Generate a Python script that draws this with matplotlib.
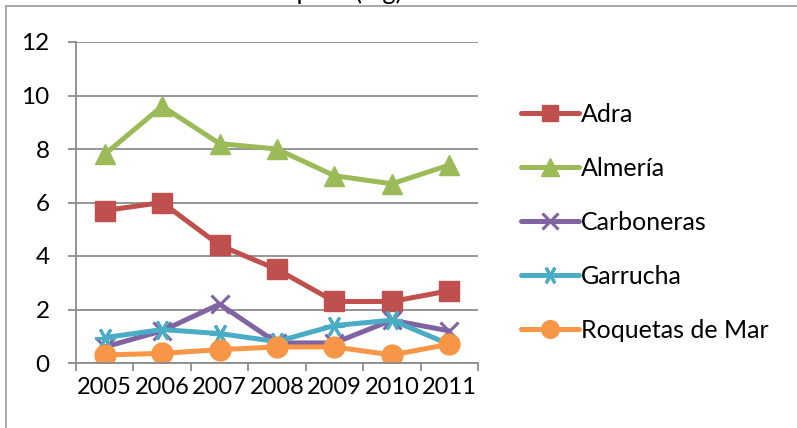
import matplotlib
matplotlib.use('Agg')
import matplotlib.pyplot as plt
from matplotlib.patches import Rectangle
import numpy as np

plt.rcParams['font.family'] = ['Lato', 'DejaVu Sans']

years = ['2005', '2006', '2007', '2008', '2009', '2010', '2011']
adra = [5.7, 6.0, 4.4, 3.5, 2.3, 2.3, 2.7]
almeria = [7.8, 9.6, 8.2, 8.0, 7.0, 6.7, 7.4]
carboneras = [0.6, 1.2, 2.2, 0.75, 0.75, 1.6, 1.2]
garrucha = [0.95, 1.25, 1.1, 0.8, 1.4, 1.6, 0.7]
roquetas = [0.3, 0.36, 0.5, 0.6, 0.6, 0.3, 0.7]
names = ['Adra', 'Almería', 'Carboneras', 'Garrucha', 'Roquetas de Mar']
title = 'Concentración en peso (mg)'

series = [adra, almeria, carboneras, garrucha, roquetas]
colors = ['#C0504D', '#9BBB59', '#8064A2', '#4BACC6', '#F79646']
markers = ['s', '^', 'x', (6, 2, 90), 'o']
msizes = [14, 15, 13, 15, 15]

fig = plt.figure(figsize=(7.97, 4.28), dpi=100)
ax = fig.add_axes([76/797, 1-363/428, (478-76)/797, (363-42)/428])

x = np.arange(len(years))
for vals, name, c, m, ms in zip(series, names, colors, markers, msizes):
    ax.plot(x, vals, color=c, lw=3.6, marker=m, markersize=ms,
            markeredgewidth=2.2 if m in ('x', (6, 2, 90)) else 1,
            markeredgecolor=c, label=name, solid_capstyle='round')

ax.set_xlim(-0.5, len(years) - 0.5)
ax.set_ylim(0, 12)
ax.set_yticks(range(0, 13, 2))
ax.set_xticks(x)
ax.set_xticklabels(years)
ax.set_xticks(np.arange(-0.5, len(years), 1), minor=True)
ax.tick_params(axis='x', which='major', length=0, pad=10, labelsize=17)
ax.tick_params(axis='x', which='minor', length=6, width=1.3, color='#8c8c8c', direction='out')
ax.tick_params(axis='y', length=6, width=1.3, color='#8c8c8c', pad=13, labelsize=17.5)
ax.grid(axis='y', color='#8c8c8c', lw=1.3)
ax.set_axisbelow(True)
for s in ['top', 'right']:
    ax.spines[s].set_visible(False)
for s in ['left', 'bottom']:
    ax.spines[s].set_color('#8c8c8c')
    ax.spines[s].set_linewidth(1.3)

ax.legend(loc='upper left', bbox_to_anchor=(521/797, 1-103/428),
          bbox_transform=fig.transFigure, frameon=False, fontsize=18,
          handlelength=2.3, handletextpad=0.1, labelspacing=1.24, borderpad=0,
          borderaxespad=0, markerscale=0.85)

fig.text(402/797, 1.0, title, ha='right', va='baseline', fontsize=18)

fig.patches.append(Rectangle((6/797, -0.1), 1.2, 1 - 6/428 + 0.1, transform=fig.transFigure,
                             fill=False, edgecolor='#a0a0a0', lw=1.3, figure=fig))

fig.savefig('out.png', dpi=100)
